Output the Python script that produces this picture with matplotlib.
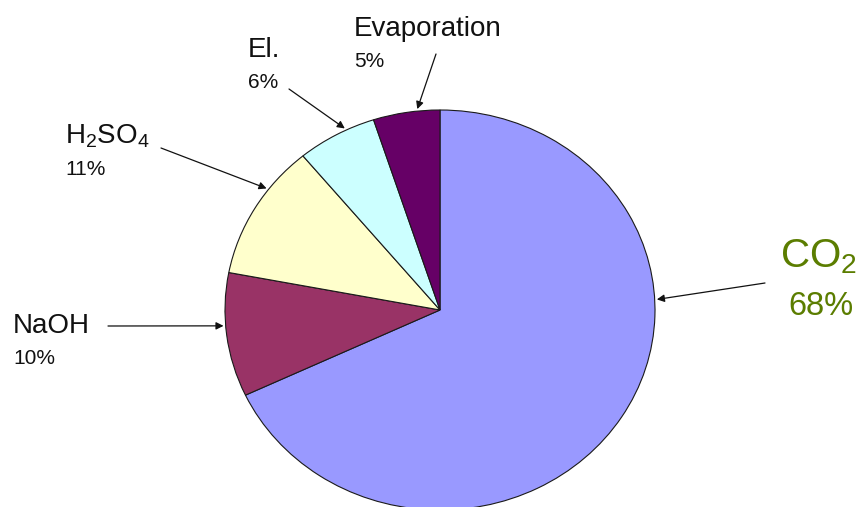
import matplotlib.pyplot as plt
import numpy as np

plt.rcParams['font.family'] = ['Liberation Sans', 'DejaVu Sans']
plt.rcParams['mathtext.fontset'] = 'custom'
plt.rcParams['mathtext.rm'] = 'Liberation Sans'
plt.rcParams['mathtext.it'] = 'Liberation Sans'

# share of each contribution, clockwise from 12 o'clock
labels = ['CO$_2$', 'NaOH', 'H$_2$SO$_4$', 'El.', 'Evaporation']
shares = [68, 10, 11, 6, 5]
colors = ['#9999ff', '#993366', '#ffffcc', '#ccffff', '#660066']

W, H = 864, 507
fig = plt.figure(figsize=(W / 100, H / 100), dpi=100)

# ellipse: x -1..1 -> px 225..655, y -1..1 -> px 510..110
ax = fig.add_axes([225 / W, (H - 510) / H, 430 / W, 400 / H])
wedges, _ = ax.pie(shares, colors=colors, startangle=90, counterclock=False,
                   wedgeprops=dict(edgecolor='#1a1a1a', linewidth=0.8))
ax.set_aspect('auto')
ax.set_xlim(-1, 1)
ax.set_ylim(-1, 1)
ax.axis('off')

def px(x, y):
    return x / W, 1 - y / H

# label layout: (name pos, pct pos, arrow tail px, arrow tip angle deg)
layout = {
    'CO$_2$':      ((780, 267), (788, 315), (765, 283), 3),
    'NaOH':        ((13, 333), (13, 364), (108, 326), 184.5),
    'H$_2$SO$_4$': ((65, 143), (65, 175), (161, 148), 143),
    'El.':         ((248, 57), (248, 88), (289, 89), 116),
    'Evaporation': ((354, 36), (354, 67), (436, 54), 96),
}

for lab, val in zip(labels, shares):
    name_xy, pct_xy, tail, ang = layout[lab]
    if lab == 'CO$_2$':
        c, fs_name, fs_pct = '#5b7d00', 29, 23.5
    else:
        c, fs_name, fs_pct = '#111111', 20, 15
    fig.text(*px(*name_xy), lab, fontsize=fs_name, color=c, va='baseline', ha='left')
    fig.text(*px(*pct_xy), '%d%%' % val, fontsize=fs_pct, color=c, va='baseline', ha='left')
    t = np.deg2rad(ang)
    ax.annotate('', xy=(np.cos(t) * 1.01, np.sin(t) * 1.01), xycoords='data',
                xytext=px(*tail), textcoords='figure fraction',
                arrowprops=dict(arrowstyle='-|>', color='#111111', lw=0.9,
                                mutation_scale=11, shrinkA=0, shrinkB=0),
                annotation_clip=False)

fig.savefig('out.png', dpi=100)
